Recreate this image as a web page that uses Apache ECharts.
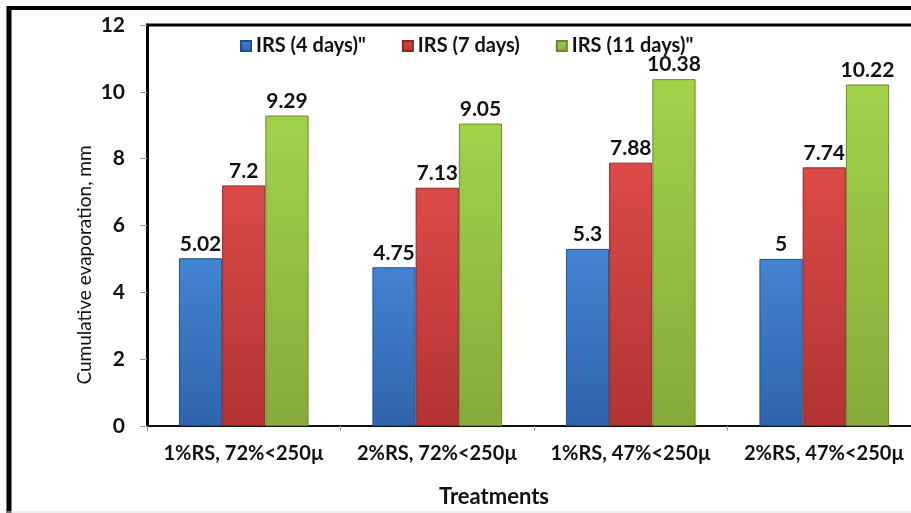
<!DOCTYPE html>
<html><head><meta charset="utf-8">
<script src="https://cdn.jsdelivr.net/npm/echarts@6/dist/echarts.min.js"></script>
<style>html,body{margin:0;padding:0;background:#fff;overflow:hidden}#c{width:911px;height:513px}</style>
</head><body><div id="c"></div>
<script>
const categories = ['1%RS, 72%<250µ', '2%RS, 72%<250µ', '1%RS, 47%<250µ', '2%RS, 47%<250µ'];
const seriesNames = ['IRS (4 days)"', 'IRS (7 days)', 'IRS (11 days)"'];
const irs4 = [5.02, 4.75, 5.3, 5];
const irs7 = [7.2, 7.13, 7.88, 7.74];
const irs11 = [9.29, 9.05, 10.38, 10.22];
const yTicks = [0, 2, 4, 6, 8, 10, 12];

const FONT = 'Lato';
function grad(top, bottom) {
  return new echarts.graphic.LinearGradient(0, 0, 0, 1, [{offset: 0, color: top}, {offset: 1, color: bottom}]);
}
const colors = [
  ['#4384d2', '#2f64ab', '#1f4f8f'],
  ['#dc4a48', '#b23433', '#8e2626'],
  ['#a2d24c', '#86aa38', '#6a8a2a']
];
const dataSets = [irs4, irs7, irs11];
const chart = echarts.init(document.getElementById('c'));
chart.setOption({
  animation: false,
  backgroundColor: '#fff',
  textStyle: {fontFamily: FONT},
  legend: {
    top: 31, left: 235, itemWidth: 10, itemHeight: 10, itemGap: 36, icon: 'rect',
    textStyle: {fontSize: 20, fontWeight: 'bold', color: '#111', fontFamily: FONT},
    data: seriesNames
  },
  grid: {left: 147, top: 25, width: 774, height: 401, show: false, outerBoundsMode: 'none', containLabel: false},
  xAxis: {
    type: 'category', data: categories,
    axisLine: {show: true, lineStyle: {color: '#111', width: 2}},
    axisTick: {show: true, length: 5, lineStyle: {color: '#999'}},
    axisLabel: {fontSize: 20, fontWeight: 'bold', color: '#111', margin: 18, fontFamily: FONT, interval: 0},
    name: 'Treatments', nameLocation: 'middle', nameGap: 60,
    nameTextStyle: {fontSize: 22, fontWeight: 'bold', color: '#111', fontFamily: FONT, padding: [0, 0, 0, -80]}
  },
  yAxis: {
    type: 'value', min: 0, max: 12, interval: 2, position: 'left',
    axisLine: {show: true, lineStyle: {color: '#000', width: 3}},
    axisTick: {show: true, length: 7, lineStyle: {color: '#999'}},
    splitLine: {show: false},
    axisLabel: {fontSize: 21, fontWeight: 'bold', color: '#111', margin: 22, fontFamily: FONT,
      formatter: v => yTicks.includes(v) ? String(v) : ''}
  },
  graphic: [
    {type: 'text', x: 75, y: 265, rotation: Math.PI / 2, z: 10,
      style: {text: 'Cumulative evaporation, mm', fill: '#111', font: '19px ' + FONT, align: 'center', verticalAlign: 'top'}},
    {type: 'line', shape: {x1: 146, y1: 25, x2: 911, y2: 25}, style: {stroke: '#000', lineWidth: 3}},
    {type: 'line', shape: {x1: 9, y1: 6, x2: 9, y2: 513}, style: {stroke: '#000', lineWidth: 5}},
    {type: 'line', shape: {x1: 7, y1: 8, x2: 911, y2: 8}, style: {stroke: '#000', lineWidth: 4}},
    {type: 'line', shape: {x1: 7, y1: 512, x2: 911, y2: 512}, style: {stroke: '#ddd', lineWidth: 1}}
  ],
  series: dataSets.map((d, i) => ({
    name: seriesNames[i], type: 'bar', data: d,
    barGap: '0%', barCategoryGap: '33%',
    itemStyle: {color: grad(colors[i][0], colors[i][1]), borderColor: colors[i][2], borderWidth: 1},
    label: {show: true, position: 'top', distance: 4, fontSize: 21, fontWeight: 'bold', color: '#111', fontFamily: FONT}
  }))
});
</script></body></html>
